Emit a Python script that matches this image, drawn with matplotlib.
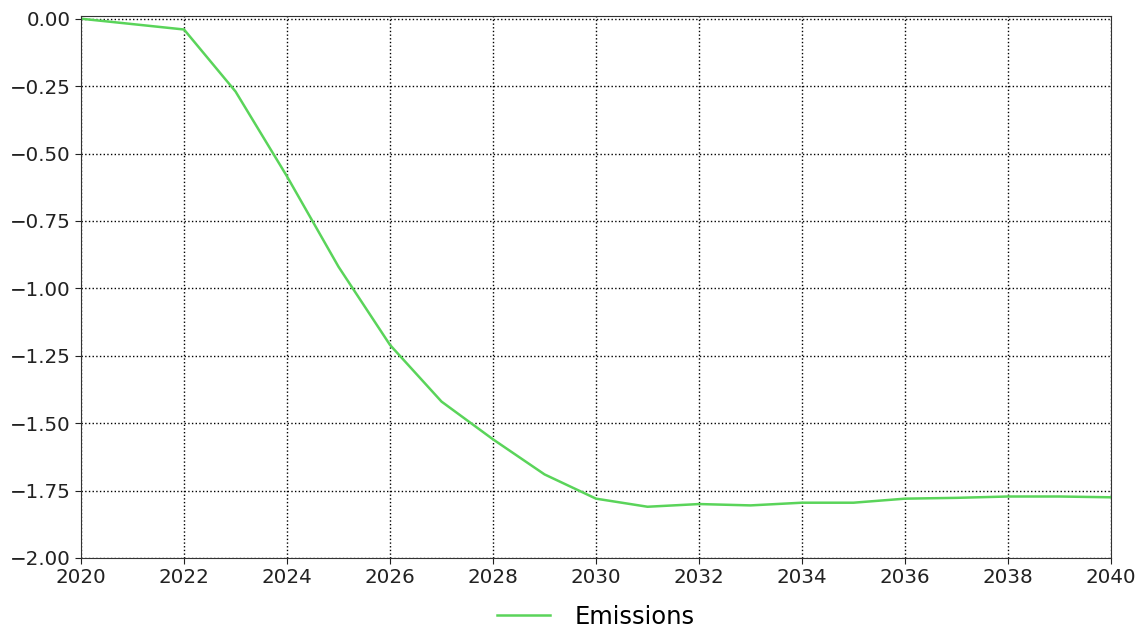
import numpy as np
import matplotlib
matplotlib.use('Agg')
import matplotlib.pyplot as plt

# yearly emission change
years = list(range(2020, 2041))
emissions = [0.0, -0.02, -0.04, -0.27, -0.585, -0.92, -1.21, -1.42, -1.56, -1.69,
             -1.78, -1.81, -1.80, -1.805, -1.795, -1.795, -1.78, -1.777, -1.772, -1.772, -1.775]
xticks = list(range(2020, 2041, 2))
yticks = [0.0, -0.25, -0.5, -0.75, -1.0, -1.25, -1.5, -1.75, -2.0]

fig = plt.figure(figsize=(11.43, 6.28), dpi=100)
ax = fig.add_axes([0.0709, 0.1115, 0.9011, 0.863])

ax.plot(years, emissions, color='#5ad45a', linewidth=1.8, label='Emissions')

ax.set_xlim(2020, 2040)
ax.set_ylim(-2.0, 0.01)
ax.set_xticks(xticks)
ax.set_yticks(yticks)
ax.tick_params(labelsize=14.3, colors='#222222', length=4)
ax.grid(True, linestyle=':', color='black', linewidth=1.0)
for sp in ax.spines.values():
    sp.set_color('#333333')

fig.legend(loc='center', bbox_to_anchor=(0.521, 0.018), frameon=False,
           fontsize=17.5, handlelength=2.2, handletextpad=1.0)

plt.savefig('out.png', dpi=100)
